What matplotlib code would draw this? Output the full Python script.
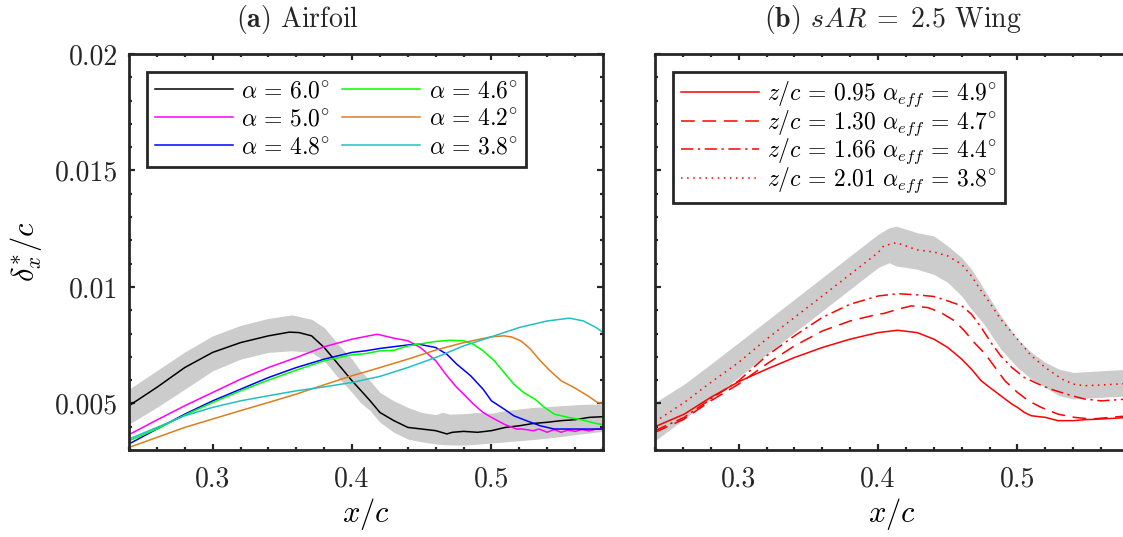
import matplotlib
matplotlib.use("Agg")
import matplotlib.pyplot as plt
from matplotlib.ticker import MultipleLocator

plt.rcParams["font.family"] = "serif"
plt.rcParams["font.serif"] = ["cmr10"]
plt.rcParams["mathtext.fontset"] = "cm"
plt.rcParams["axes.formatter.use_mathtext"] = True

# ---- (a) airfoil: displacement thickness for each angle of attack ----
x_a60 = [0.24, 0.26, 0.28, 0.30, 0.32, 0.34, 0.355, 0.362, 0.371, 0.38, 0.388, 0.40, 0.407,
         0.413, 0.42, 0.43, 0.44, 0.45, 0.46, 0.468, 0.472, 0.48, 0.49, 0.50, 0.51, 0.52,
         0.53, 0.54, 0.55, 0.56, 0.57, 0.58]
y_a60 = [0.0049, 0.00569, 0.00654, 0.00719, 0.00761, 0.0079, 0.00806, 0.00804, 0.0079, 0.0074,
         0.00683, 0.00597, 0.00551, 0.00511, 0.00461, 0.00426, 0.00397, 0.0039, 0.00383, 0.00369,
         0.00376, 0.0038, 0.00376, 0.00383, 0.00397, 0.00404, 0.00414, 0.00419, 0.00426, 0.0043,
         0.0044, 0.00443]

x_a50 = [0.24, 0.26, 0.28, 0.30, 0.32, 0.34, 0.36, 0.38, 0.40, 0.406, 0.418, 0.43, 0.44, 0.449,
         0.46, 0.468, 0.475, 0.48, 0.487, 0.494, 0.50, 0.509, 0.518, 0.522, 0.53, 0.534, 0.54,
         0.545, 0.55, 0.555, 0.56, 0.565, 0.57, 0.575, 0.58]
y_a50 = [0.00366, 0.00429, 0.0049, 0.00547, 0.00604, 0.00654, 0.00697, 0.00743, 0.00776, 0.00783,
         0.00797, 0.0078, 0.00769, 0.0074, 0.00683, 0.00619, 0.00569, 0.0054, 0.00497, 0.00461,
         0.0044, 0.00411, 0.0039, 0.0039, 0.00383, 0.0039, 0.00376, 0.00388, 0.00376, 0.00386,
         0.0038, 0.00388, 0.00382, 0.0039, 0.0039]

x_a48 = [0.24, 0.26, 0.28, 0.30, 0.32, 0.34, 0.36, 0.38, 0.40, 0.41, 0.42, 0.44, 0.448, 0.46,
         0.468, 0.475, 0.485, 0.494, 0.50, 0.509, 0.516, 0.525, 0.535, 0.545, 0.56, 0.58]
y_a48 = [0.00326, 0.0039, 0.00454, 0.00511, 0.00561, 0.00611, 0.00654, 0.0069, 0.00719, 0.00726,
         0.00736, 0.00751, 0.00754, 0.0074, 0.00711, 0.00669, 0.00619, 0.00561, 0.00511, 0.00476,
         0.00447, 0.00426, 0.00404, 0.0039, 0.0039, 0.0039]

x_a46 = [0.24, 0.26, 0.28, 0.30, 0.32, 0.34, 0.36, 0.38, 0.40, 0.41, 0.42, 0.43, 0.44, 0.46,
         0.47, 0.48, 0.487, 0.494, 0.502, 0.509, 0.516, 0.523, 0.531, 0.538, 0.545, 0.555, 0.565,
         0.575, 0.58]
y_a46 = [0.0034, 0.0039, 0.0045, 0.00504, 0.00554, 0.006, 0.00643, 0.00683, 0.00709, 0.00714,
         0.00726, 0.00728, 0.00747, 0.00766, 0.00771, 0.00769, 0.00754, 0.00726, 0.00683, 0.00633,
         0.00583, 0.00547, 0.00519, 0.00483, 0.00454, 0.0044, 0.00429, 0.00414, 0.00409]

x_a42 = [0.24, 0.26, 0.28, 0.30, 0.32, 0.34, 0.36, 0.38, 0.40, 0.41, 0.42, 0.44, 0.46, 0.48,
         0.50, 0.509, 0.514, 0.521, 0.528, 0.535, 0.542, 0.55, 0.559, 0.569, 0.576, 0.58]
y_a42 = [0.00311, 0.00354, 0.00397, 0.00433, 0.00469, 0.00504, 0.0054, 0.0058, 0.00619, 0.00636,
         0.00654, 0.0069, 0.00729, 0.00761, 0.00786, 0.0079, 0.00786, 0.00769, 0.00733, 0.00683,
         0.0064, 0.00597, 0.00569, 0.00533, 0.00504, 0.005]

x_a38 = [0.24, 0.26, 0.28, 0.30, 0.32, 0.34, 0.36, 0.38, 0.40, 0.42, 0.44, 0.46, 0.48,
         0.50, 0.52, 0.54, 0.556, 0.566, 0.575, 0.58]
y_a38 = [0.00347, 0.00397, 0.00447, 0.00483, 0.00511, 0.00533, 0.00554, 0.00571, 0.0059,
         0.00616, 0.00654, 0.00697, 0.00747, 0.00786, 0.00826, 0.00854, 0.00866, 0.00854, 0.00826,
         0.00804]

band_a_x = [0.24, 0.26, 0.28, 0.30, 0.32, 0.34, 0.357, 0.371, 0.38, 0.39, 0.40, 0.406, 0.413,
            0.42, 0.43, 0.44, 0.45, 0.46, 0.465, 0.47, 0.48, 0.49, 0.50, 0.51, 0.52, 0.53, 0.54,
            0.55, 0.56, 0.57, 0.58]
band_a_hi = [0.00561, 0.00641, 0.00721, 0.0079, 0.00835, 0.00865, 0.0088, 0.00861, 0.00826,
             0.00754, 0.0069, 0.0064, 0.00597, 0.00547, 0.00511, 0.00483, 0.00461, 0.00452,
             0.00462, 0.00454, 0.00456, 0.00461, 0.00458, 0.00469, 0.00476, 0.00483, 0.00486,
             0.0049, 0.00494, 0.00497, 0.00497]
band_a_lo = [0.00411, 0.00483, 0.00561, 0.0064, 0.0069, 0.00719, 0.00726, 0.00719, 0.00683,
             0.00611, 0.00547, 0.00504, 0.00469, 0.00419, 0.00376, 0.00347, 0.00335, 0.00326,
             0.00323, 0.00322, 0.00321, 0.00325, 0.0033, 0.00335, 0.0034, 0.00345, 0.00351,
             0.00358, 0.00366, 0.00373, 0.0038]

# ---- (b) sAR = 2.5 wing: spanwise stations ----
x_z095 = [0.24, 0.261, 0.28, 0.30, 0.32, 0.34, 0.36, 0.38, 0.40, 0.414, 0.428, 0.44, 0.45,
          0.46, 0.467, 0.474, 0.48, 0.488, 0.496, 0.50, 0.505, 0.51, 0.52, 0.529, 0.54, 0.548,
          0.56, 0.58]
y_z095 = [0.004, 0.00454, 0.00526, 0.00593, 0.00647, 0.00697, 0.0074, 0.00776, 0.00804, 0.00814,
          0.00804, 0.00776, 0.0074, 0.0069, 0.00647, 0.00597, 0.00569, 0.00533, 0.00497, 0.00483,
          0.00461, 0.00447, 0.0044, 0.00426, 0.00426, 0.0043, 0.00433, 0.0044]

x_z130 = [0.24, 0.261, 0.28, 0.30, 0.32, 0.34, 0.36, 0.38, 0.40, 0.404, 0.414, 0.424, 0.436,
          0.445, 0.455, 0.462, 0.469, 0.477, 0.484, 0.491, 0.50, 0.508, 0.517, 0.529, 0.541,
          0.553, 0.58]
y_z130 = [0.00376, 0.00433, 0.00511, 0.00583, 0.00669, 0.00747, 0.00811, 0.00854, 0.00883,
          0.00886, 0.00904, 0.00919, 0.00911, 0.0089, 0.00854, 0.00811, 0.00761, 0.00711, 0.00654,
          0.00597, 0.00547, 0.00511, 0.00483, 0.00454, 0.0044, 0.00433, 0.00447]

x_z166 = [0.24, 0.261, 0.28, 0.30, 0.32, 0.34, 0.36, 0.38, 0.40, 0.414, 0.428, 0.44, 0.45,
          0.46, 0.467, 0.474, 0.481, 0.488, 0.496, 0.505, 0.515, 0.524, 0.539, 0.548, 0.56, 0.58]
y_z166 = [0.00383, 0.0044, 0.00519, 0.00597, 0.00704, 0.0079, 0.00869, 0.00926, 0.00961, 0.00971,
          0.00966, 0.00959, 0.0094, 0.00919, 0.00883, 0.00826, 0.00761, 0.00704, 0.00654, 0.00611,
          0.00583, 0.00561, 0.00533, 0.00519, 0.00511, 0.00519]

x_z201 = [0.24, 0.261, 0.28, 0.30, 0.32, 0.34, 0.36, 0.38, 0.40, 0.404, 0.413, 0.42, 0.428,
          0.44, 0.45, 0.46, 0.467, 0.474, 0.48, 0.488, 0.50, 0.51, 0.52, 0.532, 0.54, 0.548,
          0.56, 0.58]
y_z201 = [0.00421, 0.00504, 0.0059, 0.00676, 0.00776, 0.00869, 0.00961, 0.01054, 0.01147,
          0.01176, 0.0119, 0.01176, 0.01159, 0.0115, 0.01133, 0.01097, 0.01047, 0.00983, 0.00933,
          0.00861, 0.00776, 0.00704, 0.00654, 0.00604, 0.00583, 0.00576, 0.00579, 0.00586]

band_b_x = [0.24, 0.261, 0.28, 0.30, 0.32, 0.34, 0.36, 0.38, 0.40, 0.408, 0.413, 0.428, 0.44,
            0.45, 0.46, 0.467, 0.476, 0.488, 0.50, 0.51, 0.52, 0.53, 0.54, 0.56, 0.58]
band_b_hi = [0.00504, 0.00583, 0.00669, 0.00761, 0.00854, 0.00947, 0.0104, 0.01133, 0.01226,
             0.01254, 0.01261, 0.01233, 0.01219, 0.01176, 0.01126, 0.01076, 0.0099, 0.00876,
             0.00776, 0.00719, 0.00676, 0.00647, 0.00633, 0.0064, 0.00647]
band_b_lo = [0.0034, 0.00433, 0.00519, 0.00611, 0.00711, 0.00804, 0.00897, 0.0099, 0.01083,
             0.01104, 0.0109, 0.01076, 0.01054, 0.01019, 0.00961, 0.00904, 0.0084, 0.00733,
             0.00654, 0.00604, 0.00569, 0.00533, 0.00519, 0.00526, 0.00533]

yticks = [0.005, 0.01, 0.015, 0.02]
ytick_labels = ["0.005", "0.01", "0.015", "0.02"]
xticks = [0.3, 0.4, 0.5]
xtick_labels = ["0.3", "0.4", "0.5"]

EDGE = "#262626"
BAND = "#cccccc"
W, H = 1123, 537


def style_axes(ax, show_ylabels):
    ax.set_xlim(0.24, 0.58)
    ax.set_ylim(0.003, 0.02)
    ax.set_xticks(xticks)
    ax.set_xticklabels(xtick_labels)
    ax.set_yticks(yticks)
    if show_ylabels:
        ax.set_yticklabels(ytick_labels)
    else:
        ax.set_yticklabels([])
    ax.xaxis.set_minor_locator(MultipleLocator(0.02))
    ax.yaxis.set_minor_locator(MultipleLocator(0.001))
    ax.tick_params(which="both", direction="in", top=True, right=True,
                   color=EDGE, width=1.6, labelsize=20, labelcolor="#262626")
    ax.tick_params(which="major", length=4.5)
    ax.tick_params(which="minor", length=2.2)
    ax.tick_params(axis="x", pad=12)
    ax.tick_params(axis="y", pad=8)
    for sp in ax.spines.values():
        sp.set_linewidth(2.0)
        sp.set_color(EDGE)
    ax.set_xlabel(r"$x/c$", fontsize=22, labelpad=2)


def add_legend(ax, ncol, size, spacing, pad):
    leg = ax.legend(loc="upper left", bbox_to_anchor=(18 / 474, 1 - 18 / 396),
                    borderaxespad=0, ncol=ncol, fontsize=size, frameon=True,
                    fancybox=False, edgecolor=EDGE, framealpha=1,
                    handlelength=3.3, handletextpad=0.35, columnspacing=0.5,
                    labelspacing=spacing, borderpad=pad)
    leg.get_frame().set_linewidth(2.0)
    return leg


fig = plt.figure(figsize=(W / 100, H / 100), dpi=100)
ax1 = fig.add_axes([129 / W, 1 - 450 / H, 474 / W, 396 / H])
ax2 = fig.add_axes([655 / W, 1 - 450 / H, 474 / W, 396 / H])

# (a)
ax1.fill_between(band_a_x, band_a_lo, band_a_hi, color=BAND, lw=0, zorder=1)
lw = 1.1
ax1.plot(x_a60, y_a60, color="black", lw=lw, label=r"$\alpha\,=\,6.0^{\circ}$")
ax1.plot(x_a50, y_a50, color="#ff00ff", lw=lw, label=r"$\alpha\,=\,5.0^{\circ}$")
ax1.plot(x_a48, y_a48, color="#0000ff", lw=lw, label=r"$\alpha\,=\,4.8^{\circ}$")
ax1.plot(x_a46, y_a46, color="#00ff00", lw=lw, label=r"$\alpha\,=\,4.6^{\circ}$")
ax1.plot(x_a42, y_a42, color="#dd7d1e", lw=lw, label=r"$\alpha\,=\,4.2^{\circ}$")
ax1.plot(x_a38, y_a38, color="#22bfc4", lw=lw, label=r"$\alpha\,=\,3.8^{\circ}$")
style_axes(ax1, True)
add_legend(ax1, 2, 17, 0.25, 0.35)
ax1.set_ylabel(r"$\delta_x^{*}/c$", fontsize=22, labelpad=8)

# (b)
ax2.fill_between(band_b_x, band_b_lo, band_b_hi, color=BAND, lw=0, zorder=1)
red = "#ff0000"
ax2.plot(x_z095, y_z095, color=red, lw=lw, ls="-",
         label=r"$z/c\,=\,0.95\ \alpha_{eff}\,=\,4.9^{\circ}$")
ax2.plot(x_z130, y_z130, color=red, lw=lw, ls=(0, (9, 5)),
         label=r"$z/c\,=\,1.30\ \alpha_{eff}\,=\,4.7^{\circ}$")
ax2.plot(x_z166, y_z166, color=red, lw=lw, ls=(0, (8, 3, 1.5, 3)),
         label=r"$z/c\,=\,1.66\ \alpha_{eff}\,=\,4.4^{\circ}$")
ax2.plot(x_z201, y_z201, color=red, lw=lw, ls=(0, (1, 3)),
         label=r"$z/c\,=\,2.01\ \alpha_{eff}\,=\,3.8^{\circ}$")
style_axes(ax2, False)
add_legend(ax2, 1, 17, -0.04, 0.33)

fig.text(297 / W, 1 - 20 / H, r"$\mathbf{(a)}$ Airfoil", ha="center", va="center",
         fontsize=20, color="#262626")
fig.text(893 / W, 1 - 20 / H, r"$\mathbf{(b)}$ $sAR\;=\;2.5$ Wing", ha="center",
         va="center", fontsize=20, color="#262626")

fig.savefig("out.png", dpi=100)
